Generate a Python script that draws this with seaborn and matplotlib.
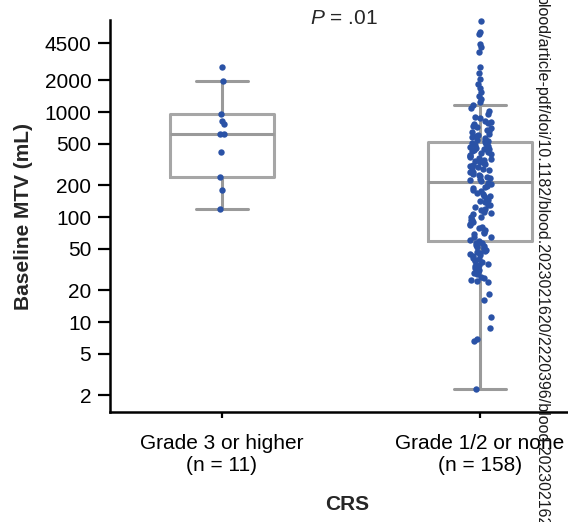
import numpy as np
import pandas as pd
import matplotlib
matplotlib.use("Agg")
import matplotlib.pyplot as plt
import seaborn as sns

# CRS groups and baseline MTV (mL)
groups = ["Grade 3 or higher\n(n = 11)", "Grade 1/2 or none\n(n = 158)"]

mtv_grade3 = [2700, 1960, 957, 826, 769, 613, 613, 418, 239, 179, 118]

mtv_low_tail = [2.3, 6.6, 6.9, 8.7, 11.2, 16.2, 18.5, 24, 24.5, 25, 26.5, 27, 28.5,
                29, 30, 31.5, 33, 34, 35, 36, 37.5, 38, 39, 40, 41, 42.5, 43, 44,
                45.5, 46, 47, 48, 49.5, 51, 52, 53, 54.5, 56, 57]
mtv_q1_med = [59.5, 61, 64, 65, 69, 71, 72, 76, 79, 80, 84, 85, 89, 93, 94, 99, 101,
              106, 110, 111, 117, 119, 125, 130, 131, 138, 142, 145, 151, 157, 158,
              167, 170, 178, 181, 190, 194, 199, 207, 210, 218]
mtv_med_q3 = [225, 231, 236, 240, 248, 252, 259, 266, 270, 278, 284, 290, 297, 305,
              311, 318, 326, 333, 340, 349, 356, 362, 371, 380, 388, 395, 404, 412,
              421, 430, 440, 449, 458, 468, 477, 487, 497, 508, 518]
mtv_upper = [525, 538, 546, 561, 574, 590, 602, 618, 640, 655, 678, 702, 718, 741,
             762, 785, 800, 829, 871, 903, 958, 1012, 1085, 1160]
mtv_outliers = [1250, 1330, 1430, 1560, 1700, 1850, 2050, 2350, 2700, 3750, 4150,
                4450, 5500, 5800, 7400]
mtv_grade12 = mtv_low_tail + mtv_q1_med + mtv_med_q3 + mtv_upper + mtv_outliers

y_ticks = [2, 5, 10, 20, 50, 100, 200, 500, 1000, 2000, 4500]

df = pd.DataFrame({
    "CRS": [groups[0]] * len(mtv_grade3) + [groups[1]] * len(mtv_grade12),
    "MTV": mtv_grade3 + mtv_grade12,
})

sns.set_theme(style="ticks")
plt.rcParams["font.family"] = ["Liberation Sans", "DejaVu Sans"]
plt.rcParams["mathtext.fontset"] = "custom"
plt.rcParams["mathtext.rm"] = "Liberation Sans"
plt.rcParams["mathtext.it"] = "Liberation Sans:italic"

W, H = 568, 522
fig = plt.figure(figsize=(W / 100, H / 100), dpi=100)
ax = fig.add_axes([110 / W, 1 - 412 / H, (584 - 110) / W, (412 - 20) / H])
ax.set_yscale("log")

dot = "#2A52A6"
np.random.seed(3)
# narrow jitter for the sparse points, wider for the dense core
tight = (df.CRS == groups[0]) | (df.MTV > 1200)
for mask, jit in [(tight, 0.008), (~tight, 0.045)]:
    sns.stripplot(data=df[mask], x="CRS", y="MTV", order=groups,
                  jitter=jit, size=4.6, color=dot, linewidth=0, zorder=3,
                  clip_on=False, ax=ax)


def box_stats(vals):
    v = np.asarray(vals, dtype=float)
    q1, med, q3 = np.percentile(v, [25, 50, 75], method="weibull")
    iqr = q3 - q1
    hi = v[v <= q3 + 1.5 * iqr].max()
    lo = v[v >= q1 - 1.5 * iqr].min()
    return dict(med=med, q1=q1, q3=q3, whislo=lo, whishi=hi, fliers=[])


line = dict(color="#9a9a9a", linewidth=2.2)
ax.bxp([box_stats(mtv_grade3), box_stats(mtv_grade12)], positions=[0, 1],
       widths=0.4, showfliers=False, manage_ticks=False,
       boxprops=dict(color="#a6a6a6", linewidth=2.2),
       whiskerprops=line, capprops=line, medianprops=line)

ax.set_xlim(-0.434, 1.403)
ax.set_ylim(1.39, 7520)
ax.set_yticks(y_ticks)
ax.set_yticklabels([str(t) for t in y_ticks])
ax.yaxis.set_minor_locator(matplotlib.ticker.NullLocator())

for side in ["top", "right"]:
    ax.spines[side].set_visible(False)
for side in ["left", "bottom"]:
    ax.spines[side].set_linewidth(1.8)
    ax.spines[side].set_color("black")

ax.tick_params(axis="y", length=8.5, width=1.6, labelsize=15, pad=5,
               color="black", labelcolor="black")
ax.tick_params(axis="x", length=4.5, width=1.6, labelsize=15, pad=11,
               color="black", labelcolor="black")

ax.set_ylabel("Baseline MTV (mL)", fontsize=15, fontweight="bold", labelpad=8)
ax.set_xlabel("CRS", fontsize=15, fontweight="bold", labelpad=15)

fig.text(344 / W, 1 - 18 / H, r"$\it{P}$ = .01", ha="center", va="center",
         fontsize=15)

fig.text(541 / W, 1 + 4 / H,
         "blood/article-pdf/doi/10.1182/blood.2023021620/2220396/blood.2023021620.pdf",
         rotation=270, ha="center", va="top", fontsize=11.5, color="#1a1a1a")

fig.savefig("out.png", dpi=100)
